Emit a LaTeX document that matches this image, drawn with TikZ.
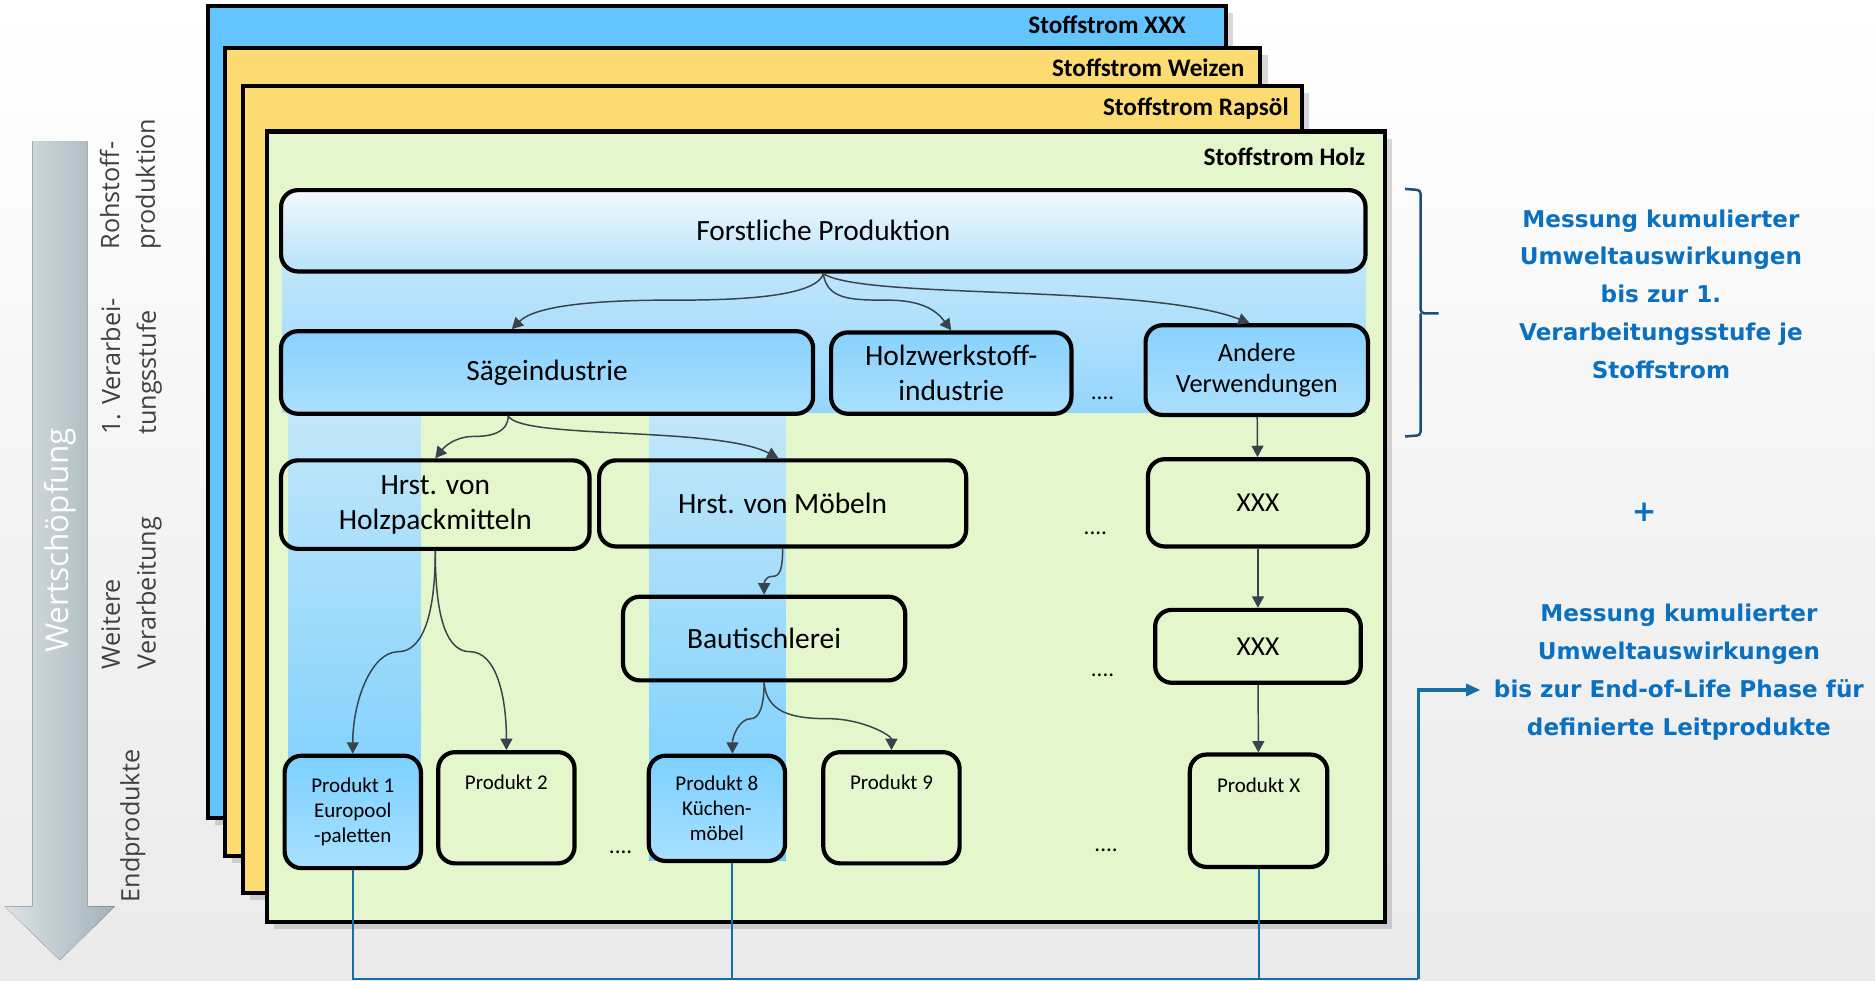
\documentclass[tikz,border=0pt]{standalone}
\usepackage{fontspec}
\setmainfont{Carlito}
\newfontfamily\ebenefont{Open Sans}
\newfontfamily\messfont{DejaVu Sans}
\usetikzlibrary{arrows.meta, shadows}

\definecolor{hgunten}{HTML}{EAEAEA}
\definecolor{pfeilhell}{HTML}{DCE3E6}
\definecolor{pfeildunkel}{HTML}{A2B3BA}
\definecolor{stromblau}{HTML}{64C5FE}
\definecolor{stromgelb}{HTML}{FDDB73}
\definecolor{stromgruen}{HTML}{E4F6CC}
\definecolor{bandoben}{HTML}{C6E8FA}
\definecolor{bandunten}{HTML}{95D6FE}
\definecolor{saeuleoben}{HTML}{C2E7F8}
\definecolor{saeuleunten}{HTML}{74CDFF}
\definecolor{forstoben}{HTML}{F1F9FE}
\definecolor{forstunten}{HTML}{B8E2FA}
\definecolor{stufeoben}{HTML}{88D2FF}
\definecolor{stufeunten}{HTML}{ABDFFC}
\definecolor{produktoben}{HTML}{7CD0FF}
\definecolor{produktunten}{HTML}{A8E0FF}
\definecolor{pfeilgrau}{HTML}{38434C}
\definecolor{messblau}{HTML}{0A70C2}
\definecolor{linienblau}{HTML}{156EA5}
\definecolor{klammerblau}{HTML}{1A4F7C}
\definecolor{ebenetext}{HTML}{404040}

\tikzset{
    strom/.style={draw, line width=2pt, drop shadow={shadow xshift=0.12cm, shadow yshift=-0.12cm, opacity=0.3}},
    stromtitel/.style={anchor=east, inner sep=0pt, font=\fontsize{12}{14}\selectfont\bfseries},
    stufe/.style={draw, line width=2pt, rounded corners=0.28cm, align=center, inner sep=0pt, font=\fontsize{14}{16.5}\selectfont},
    blaustufe/.style={stufe, top color=stufeoben, bottom color=stufeunten},
    produkt/.style={stufe, minimum width=2.28cm, minimum height=1.86cm, font=\fontsize{10}{12}\selectfont},
    hellprodukt/.style={produkt, top color=produktoben, bottom color=produktunten},
    fluss/.style={pfeilgrau, line width=0.7pt, -{Triangle[length=0.19cm, width=0.2cm]}},
    leit/.style={linienblau, line width=0.9pt},
    ebene/.style={rotate=90, anchor=west, align=left, inner sep=0pt, text=ebenetext, font=\ebenefont\fontsize{12}{17}\selectfont},
    punkte/.style={inner sep=0pt, font=\fontsize{11}{13}\selectfont},
    mess/.style={align=center, text=messblau, font=\messfont\bfseries\fontsize{11}{18}\selectfont}
}

\begin{document}
\begin{tikzpicture}[x=0.02cm, y=-0.02cm]
        \useasboundingbox (0,0) rectangle (1568,820);
        \fill[top color=white, bottom color=hgunten] (0,0) rectangle (1568,820);
        % Wertschoepfung und Ebenen
        \fill[left color=pfeilhell, right color=pfeildunkel] (27,118) -- (73,118) -- (73,758) -- (96,758) -- (50,803) -- (4,758) -- (27,758) -- cycle;
        \node[rotate=90, text=white, font=\ebenefont\fontsize{15}{18}\selectfont] (wert) at (50,452) {Wertschöpfung};
        \node[ebene] (roh) at (109,209) {Rohstoff-\\produktion};
        \node[ebene] (erste) at (110,364) {1. Verarbei-\\tungsstufe};
        \node[ebene] (weitere) at (110,560) {Weitere\\Verarbeitung};
        \node[ebene] (ende) at (111,755) {Endprodukte};
        % Stoffstroeme
        \draw[strom, fill=stromblau] (174,5) rectangle (1025,684);
        \node[stromtitel] (txxx) at (992,21) {Stoffstrom XXX};
        \draw[strom, fill=stromgelb] (188,40) rectangle (1054,716);
        \node[stromtitel] (tweizen) at (1041,57) {Stoffstrom Weizen};
        \draw[strom, fill=stromgelb] (203,72) rectangle (1089,747);
        \node[stromtitel] (trapsoel) at (1078,91) {Stoffstrom Rapsöl};
        \draw[strom, fill=stromgruen] (223,110) rectangle (1158,771);
        \node[stromtitel] (tholz) at (1142,131) {Stoffstrom Holz};
        % Baender
        \fill[top color=bandoben, bottom color=bandunten] (236,205) rectangle (1142,345);
        \fill[top color=saeuleoben, bottom color=saeuleunten] (241,345) rectangle (352,722);
        \fill[top color=saeuleoben, bottom color=saeuleunten] (543,345) rectangle (657,720);
        % Stufen
        \node[stufe, top color=forstoben, bottom color=forstunten, minimum width=18.14cm, minimum height=1.36cm] (forst) at (688.5,193) {Forstliche Produktion};
        \node[blaustufe, minimum width=8.9cm, minimum height=1.38cm] (saege) at (457.5,311.5) {Sägeindustrie};
        \node[blaustufe, minimum width=4.02cm, minimum height=1.36cm] (holzw) at (795.5,312) {Holzwerkstoff-\\industrie};
        \node[blaustufe, minimum width=3.72cm, minimum height=1.5cm, font=\fontsize{12.5}{14.7}\selectfont] (andere) at (1051,309.5) {Andere\\Verwendungen};
        \node[stufe, minimum width=5.16cm, minimum height=1.48cm] (holzpack) at (364,422) {Hrst. von\\Holzpackmitteln};
        \node[stufe, minimum width=6.14cm, minimum height=1.44cm] (moebel) at (654.5,421) {Hrst. von Möbeln};
        \node[stufe, minimum width=3.68cm, minimum height=1.46cm, font=\fontsize{13}{15}\selectfont] (xxxa) at (1052,420.5) {XXX};
        \node[stufe, minimum width=4.72cm, minimum height=1.4cm] (baut) at (639,534) {Bautischlerei};
        \node[stufe, minimum width=3.44cm, minimum height=1.22cm, font=\fontsize{13}{15}\selectfont] (xxxb) at (1052,540.5) {XXX};
        \node[hellprodukt, minimum height=1.88cm] (pa) at (295,679) {Produkt 1\\Europool\\-paletten};
        \node[produkt] (pb) at (423.5,675.5) {Produkt 2\\\phantom{X}\\\phantom{X}};
        \node[hellprodukt, minimum height=1.76cm] (pc) at (599.5,676) {Produkt 8\\Küchen-\\möbel};
        \node[produkt] (pd) at (745.5,675.5) {Produkt 9\\\phantom{X}\\\phantom{X}};
        \node[produkt, minimum width=2.3cm, minimum height=1.88cm] (pe) at (1052.5,678) {Produkt X\\\phantom{X}\\\phantom{X}};
        \node[punkte] (pkta) at (922,333) {....};
        \node[punkte] (pktb) at (916,446) {....};
        \node[punkte] (pktc) at (922,565) {....};
        \node[punkte] (pktd) at (925,711) {....};
        \node[punkte] (pkte) at (519,713) {....};
        % Pfeile
        \draw[fluss] (forst.south) .. controls +(-6,22) and +(40,0) .. (560,251) .. controls +(-60,0) and +(20,-20) .. ([xshift=-0.59cm]saege.north);
        \draw[fluss] (forst.south) .. controls +(3,22) and +(-30,0) .. (742,251) .. controls +(30,0) and +(-12,-16) .. (holzw.north);
        \draw[fluss] (forst.south) .. controls +(32,22) and +(-85,-33) .. ([xshift=-0.12cm]andere.north);
        \draw[fluss] ([xshift=-0.65cm]saege.south) .. controls +(0,14) and +(15,0) .. (396,365) .. controls +(-15,0) and +(8,-10) .. (holzpack.north);
        \draw[fluss] ([xshift=-0.65cm]saege.south) .. controls +(10,20) and +(-51,-27) .. ([xshift=-0.07cm]moebel.north);
        \draw[fluss] (holzpack.south) .. controls +(0,60) and +(18,0) .. (333,545) .. controls +(-22,0) and +(0,-45) .. (pa.north);
        \draw[fluss] (holzpack.south) .. controls +(0,60) and +(-18,0) .. (393,545) .. controls +(22,0) and +(0,-45) .. (pb.north);
        \draw[fluss] (moebel.south) .. controls +(0,18) and +(6,0) .. (646,482) .. controls +(-6,0) and +(0,-10) .. (baut.north);
        \draw[fluss] (baut.south) .. controls +(0,22) and +(6,0) .. (628,601) .. controls +(-10,0) and +(0,-14) .. ([xshift=0.26cm]pc.north);
        \draw[fluss] (baut.south) .. controls +(2,25) and +(-30,0) .. (692,601) .. controls +(30,0) and +(0,-12) .. (pd.north);
        \draw[fluss] (andere) -- (xxxa);
        \draw[fluss] (xxxa) -- (xxxb);
        \draw[fluss] (xxxb) -- (pe);
        % Leitprodukte
        \coordinate (ecke) at (1186,818.5);
        \coordinate (ziel) at (1238,577);
        \coordinate (pcfuss) at ([xshift=0.26cm]pc.south);
        \draw[leit] (pa.south) -- (pa.south |- ecke) -- (ecke);
        \draw[leit] (pcfuss) -- (pcfuss |- ecke);
        \draw[leit] (pe.south) -- (pe.south |- ecke);
        \draw[leit, line width=1.6pt, -{Triangle[length=0.24cm, width=0.2cm]}] (ecke) -- (ecke |- ziel) -- (ziel);
        \coordinate (klammeroben) at (1175,158);
        \coordinate (klammerunten) at (1175,365);
        \coordinate (klammerspitze) at (1203,262);
        \draw[klammerblau, line width=1.2pt, rounded corners=0.06cm] (klammeroben) -- (1188,159) -- (1188,262) -- (klammerspitze);
        \draw[klammerblau, line width=1.2pt, rounded corners=0.06cm] (1188,262) -- (1188,364) -- (klammerunten);
        % Messung
        \node[mess] (messa) at (1389,246) {Messung kumulierter\\Umweltauswirkungen\\bis zur 1.\\Verarbeitungsstufe je\\Stoffstrom};
        \node[mess, font=\messfont\bfseries\fontsize{14}{16}\selectfont] (plus) at (1375,428) {+};
        \node[mess] (messb) at (1404,562) {Messung kumulierter\\Umweltauswirkungen\\bis zur End-of-Life Phase für\\definierte Leitprodukte};
\end{tikzpicture}
\end{document}
